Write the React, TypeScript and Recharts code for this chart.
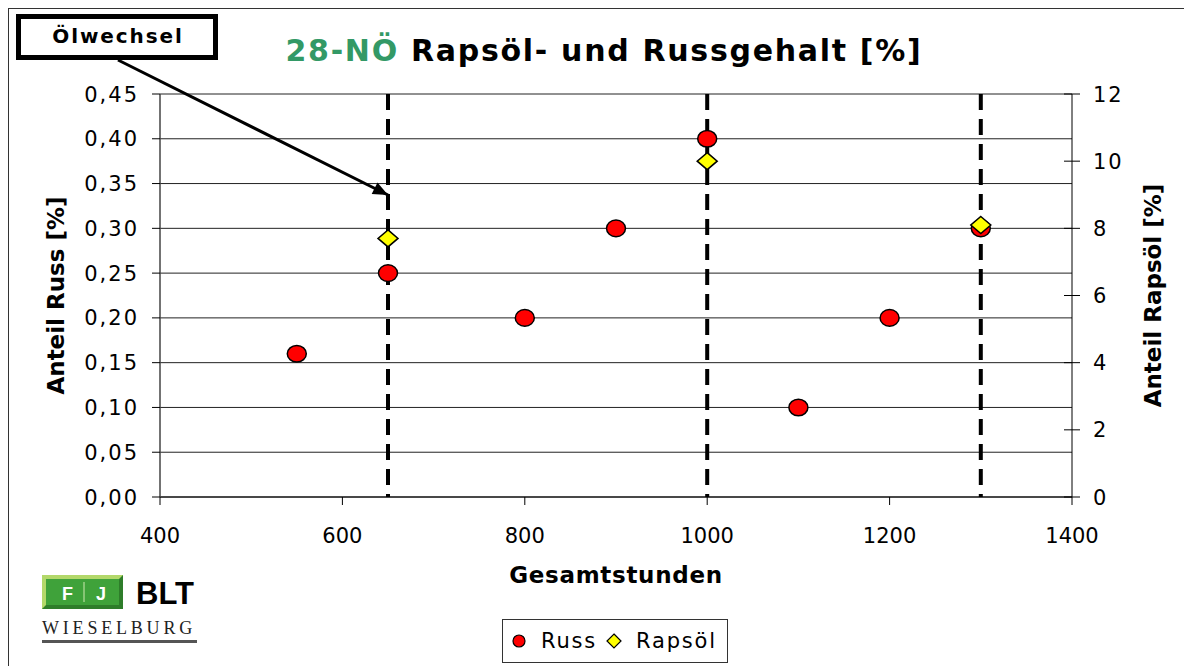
import React from 'react'
import {
  ScatterChart, Scatter, XAxis, YAxis, CartesianGrid,
  ReferenceLine, Legend, Label,
} from 'recharts'

// Russ (left axis, %)
const russHours = [550, 650, 800, 900, 1000, 1100, 1200, 1300]
const russValues = [0.16, 0.25, 0.2, 0.3, 0.4, 0.1, 0.2, 0.3]

// Rapsöl (right axis, %)
const rapsHours = [650, 1000, 1300]
const rapsValues = [7.7, 10.0, 8.1]

// Ölwechsel markers
const oilChanges = [650, 1000, 1300]

const xTicks = [400, 600, 800, 1000, 1200, 1400]
const leftTicks = [0, 0.05, 0.1, 0.15, 0.2, 0.25, 0.3, 0.35, 0.4, 0.45]
const rightTicks = [0, 2, 4, 6, 8, 10, 12]

const seriesNames = ['Russ', 'Rapsöl']

const russData = russHours.map((h, i) => ({ x: h, y: russValues[i] }))
const rapsData = rapsHours.map((h, i) => ({ x: h, y: rapsValues[i] }))

const FONT = 'DejaVu Sans'
const TICK = 8

const fmtComma = (v: number) => v.toFixed(2).replace('.', ',')

const LeftTick = ({ x, y, payload }: any) => (
  <text x={x} y={y} dy="0.36em" textAnchor="end" fontSize={21} fontFamily={FONT} fill="#000" letterSpacing={2}>
    {fmtComma(payload.value)}
  </text>
)

const RIGHT_MARGIN = 13
const RightTick = ({ x, y, payload }: any) => {
  const axisX = x - RIGHT_MARGIN - TICK
  return (
    <g>
      <line x1={axisX - TICK} x2={axisX + TICK} y1={y} y2={y} stroke="#000" strokeWidth={1} />
      <text x={x} y={y} dy="0.36em" textAnchor="start" fontSize={21} fontFamily={FONT} fill="#000" letterSpacing={2}>
        {payload.value}
      </text>
    </g>
  )
}

const BottomTick = ({ x, y, payload }: any) => (
  <text x={x} y={y} dy="0.73em" textAnchor="middle" fontSize={21} fontFamily={FONT} fill="#000">
    {payload.value}
  </text>
)

const RussShape = ({ cx, cy }: any) => (
  <ellipse cx={cx} cy={cy} rx={9.5} ry={8.3} fill="#ff0000" stroke="#000" strokeWidth={1.5} />
)

const RapsShape = ({ cx, cy }: any) => (
  <polygon
    points={`${cx},${cy - 8.5} ${cx + 10},${cy} ${cx},${cy + 8.5} ${cx - 10},${cy}`}
    fill="#ffff00" stroke="#000" strokeWidth={1.5}
  />
)

const LegendBox = () => (
  <div style={{
    boxSizing: 'border-box', width: 226, height: 44, border: '1px solid #333', background: '#fff',
    display: 'flex', alignItems: 'center', fontFamily: FONT, fontSize: 21, letterSpacing: 1.8, color: '#000',
  }}>
    <svg width={14} height={14} style={{ marginLeft: 9 }}>
      <ellipse cx={7} cy={7} rx={6} ry={6} fill="#ff0000" stroke="#000" strokeWidth={1.2} />
    </svg>
    <span style={{ marginLeft: 15 }}>{seriesNames[0]}</span>
    <svg width={16} height={16} style={{ marginLeft: 9 }}>
      <polygon points="8,1 15,8 8,15 1,8" fill="#ffff00" stroke="#000" strokeWidth={1.2} />
    </svg>
    <span style={{ marginLeft: 14 }}>{seriesNames[1]}</span>
  </div>
)

// Ölwechsel annotation arrow (container coords)
const arrowFrom = { x: 109, y: 51 }
const arrowTo = { x: 379, y: 186 }
function arrowHead() {
  const dx = arrowTo.x - arrowFrom.x
  const dy = arrowTo.y - arrowFrom.y
  const len = Math.hypot(dx, dy)
  const ux = dx / len, uy = dy / len
  const bx = arrowTo.x - ux * 15, by = arrowTo.y - uy * 15
  const px = -uy * 6.5, py = ux * 6.5
  return `${arrowTo.x},${arrowTo.y} ${bx + px},${by + py} ${bx - px},${by - py}`
}

export default function App() {
  return (
    <div style={{
      position: 'relative', width: 1200, height: 680, borderLeft: '1px solid #333', borderTop: '1px solid #333',
      background: '#fff', fontFamily: FONT,
    }}>
      <div style={{ position: 'absolute', left: 0, top: 0 }}>
        <ScatterChart width={1180} height={650} margin={{ top: 85, right: 7, bottom: 122, left: 40 }}>
          <CartesianGrid yAxisId="left" vertical={false} stroke="#222" />
          <XAxis
            type="number" dataKey="x" domain={[400, 1400]} ticks={xTicks} interval={0}
            axisLine={{ stroke: '#000' }} tickLine={{ stroke: '#000' }} tickSize={TICK} tickMargin={23}
            height={40} tick={<BottomTick />}
          >
            <Label value="Gesamtstunden" position="bottom" offset={30}
              style={{ fontSize: 23, fontWeight: 'bold', fontFamily: FONT, fill: '#000', letterSpacing: 0.7 }} />
          </XAxis>
          <YAxis
            yAxisId="left" type="number" dataKey="y" domain={[0, 0.45]} ticks={leftTicks} interval={0}
            width={111} axisLine={{ stroke: '#444', strokeWidth: 1.5 }} tickLine={{ stroke: '#000' }}
            tickSize={TICK} tickMargin={13} tick={<LeftTick />}
          >
            <Label value="Anteil Russ [%]" angle={-90} position="insideLeft" offset={7}
              style={{ textAnchor: 'middle', fontSize: 23, fontWeight: 'bold', fontFamily: FONT, fill: '#000' }} />
          </YAxis>
          <YAxis
            yAxisId="right" orientation="right" type="number" dataKey="y" domain={[0, 12]} ticks={rightTicks}
            interval={0} width={110} axisLine={{ stroke: '#000' }} tickLine={false}
            tickSize={TICK} tickMargin={RIGHT_MARGIN} tick={<RightTick />}
          >
            <Label value="Anteil Rapsöl [%]" angle={-90} position="insideRight" offset={29}
              style={{ textAnchor: 'middle', fontSize: 23, fontWeight: 'bold', fontFamily: FONT, fill: '#000' }} />
          </YAxis>
          <Legend
            layout="horizontal" verticalAlign="middle" align="center"
            wrapperStyle={{ left: 493, top: 610, width: 226, height: 44 }}
            content={() => <LegendBox />}
          />
          <Scatter name={seriesNames[0]} yAxisId="left" data={russData} shape={<RussShape />} isAnimationActive={false} />
          <Scatter name={seriesNames[1]} yAxisId="right" data={rapsData} shape={<RapsShape />} isAnimationActive={false} />
          {oilChanges.map((h) => (
            <ReferenceLine key={h} x={h} yAxisId="left" stroke="#000" strokeWidth={4}
              strokeDasharray="16 9" strokeDashoffset={13} />
          ))}
        </ScatterChart>
      </div>

      <svg width={1180} height={660} style={{ position: 'absolute', left: 0, top: 0, pointerEvents: 'none' }}>
        <text x={595} y={52} textAnchor="middle" fontSize={30} fontWeight="bold" fontFamily={FONT} letterSpacing={1.7}>
          <tspan fill="#339966">28-NÖ</tspan>
          <tspan fill="#000"> Rapsöl- und Russgehalt [%]</tspan>
        </text>

        <rect x={9.5} y={7.5} width={197} height={41} fill="#fff" stroke="#000" strokeWidth={5} />
        <text x={109} y={34} textAnchor="middle" fontSize={20} fontWeight="bold" fontFamily={FONT} letterSpacing={1.9} fill="#000">
          Ölwechsel
        </text>
        <line x1={arrowFrom.x} y1={arrowFrom.y} x2={arrowTo.x} y2={arrowTo.y} stroke="#000" strokeWidth={3} />
        <polygon points={arrowHead()} fill="#000" />

        {/* logo */}
        <rect x={33} y={566} width={81} height={34} fill="#2e7d2a" />
        <polygon points="33,566 114,566 110,570 37,570 37,596 33,600" fill="#b3d86a" />
        <rect x={37} y={570} width={73} height={26} fill="#3fa23a" />
        <text x={53} y={591} fontSize={18} fontWeight="bold" fontFamily="Liberation Sans" fill="#fff">F</text>
        <line x1={75} y1={573} x2={75} y2={593} stroke="#cfe8b0" strokeWidth={1} />
        <text x={87} y={591} fontSize={18} fontWeight="bold" fontFamily="Liberation Sans" fill="#fff">J</text>
        <text x={127} y={595} fontSize={31} fontWeight="bold" fontFamily="Liberation Sans" fill="#000">BLT</text>
        <text x={33} y={625} fontSize={18} fontFamily="Liberation Serif" fill="#222" letterSpacing={3.8}>WIESELBURG</text>
        <rect x={33} y={631} width={155} height={3} fill="#555" />
      </svg>
    </div>
  )
}
